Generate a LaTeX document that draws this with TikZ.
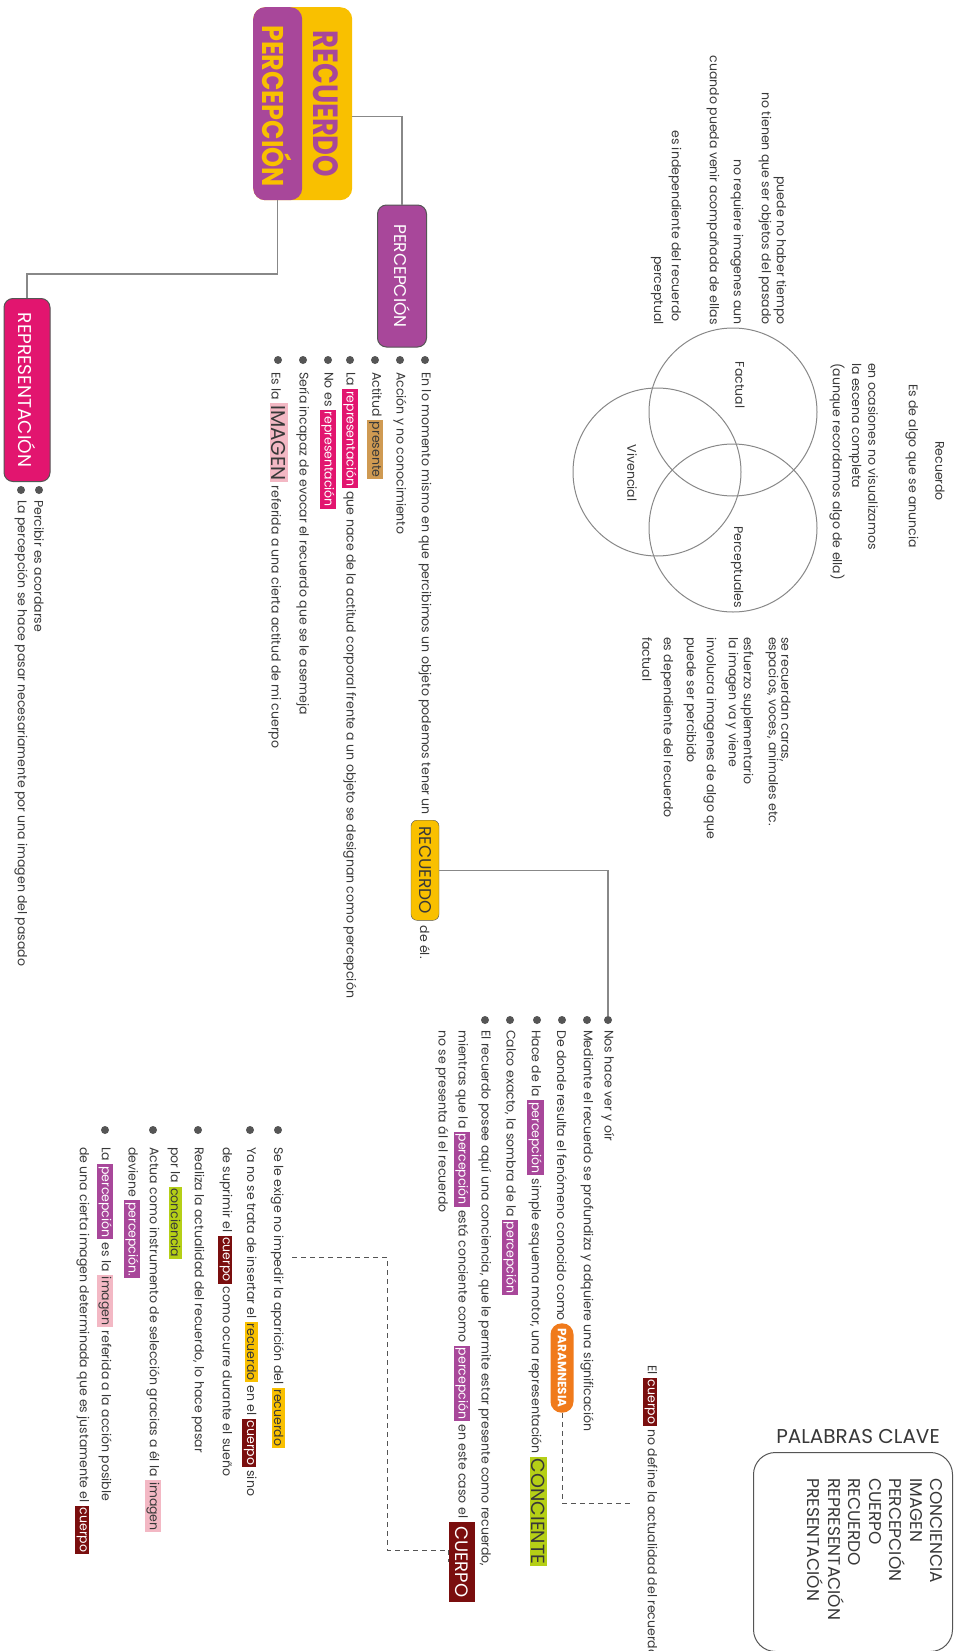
\documentclass[tikz,border=0pt]{standalone}
\usepackage{fontspec}
\setmainfont{Poppins}
\usetikzlibrary{calc}
\definecolor{ry}{HTML}{F9C000}
\definecolor{pp}{HTML}{A8479A}
\definecolor{mg}{HTML}{E2156F}
\definecolor{tn}{HTML}{CF9A52}
\definecolor{pk}{HTML}{F3B8C4}
\definecolor{orp}{HTML}{F07A1B}
\definecolor{lm}{HTML}{B5CF16}
\definecolor{dr}{HTML}{7A0E0E}
\definecolor{tg}{HTML}{383838}
\definecolor{dg}{HTML}{555555}
\definecolor{lg}{HTML}{888888}
\newcommand{\hlt}[3]{{\setlength{\fboxsep}{1.8pt}\colorbox{#1}{\textcolor{#2}{#3}}}}
\begin{document}
\begin{tikzpicture}[x=1pt,y=1pt,
  txt/.style={font=\fontsize{12.5}{14}\selectfont, text=tg, inner sep=0pt, anchor=west},
  ctxt/.style={font=\fontsize{12.5}{14}\selectfont, text=tg, inner sep=0pt},
  bul/.style={circle, fill=dg, inner sep=0pt, minimum size=8pt},
  conn/.style={draw=lg, line width=1.3pt},
  dconn/.style={draw=dg, line width=1pt, dash pattern=on 5pt off 4pt},
  circ/.style={circle, draw=lg, line width=1pt, minimum size=168pt, inner sep=0pt},
  bigbox/.style={draw=dg, line width=1pt, rounded corners=9pt, text=white, inner sep=0pt, font=\fontsize{17}{17}\selectfont}
]
\begin{scope}[rotate=-90, transform shape]
\useasboundingbox (0,0) rectangle (1651,953);
\fill[white] (0,0) rectangle (1651,953);

% ---------- title ----------
\node[fill=ry, rounded corners=12pt, minimum width=193pt, minimum height=99pt, inner sep=0pt, anchor=south west] (ty) at (7,253) {};
\node[fill=pp, rounded corners=12pt, minimum width=193pt, minimum height=49pt, inner sep=0pt, anchor=south west] (tp) at (7,253) {};
\node[font=\fontsize{35}{35}\selectfont\bfseries, text=pp, inner sep=0pt] (tyt) at (104,326) {\scalebox{0.78}[1]{RECUERDO}};
\node[font=\fontsize{30}{30}\selectfont\bfseries, text=ry, inner sep=0pt] (tpt) at (106,277) {\scalebox{0.85}[1]{PERCEPCIÓN}};

% ---------- PERCEPCION ----------
\node[bigbox, fill=pp, minimum width=142pt, minimum height=49pt] (perc) at (276,402) {PERCEPCIÓN};
\draw[conn] ($(ty.north)+(13,0)$) |- (perc.west);

\node[bul] (pb1) at (360,425) {};
\node[bul] (pb2) at (360,400) {};
\node[bul] (pb3) at (360,375) {};
\node[bul] (pb4) at (360,350) {};
\node[bul] (pb5) at (360,328) {};
\node[bul] (pb6) at (360,303) {};
\node[bul] (pb7) at (360,278) {};
\node[txt] (p1) at (372,425) {En lo momento mismo en que percibimos un objeto podemos tener un};
\node[draw=dg, fill=ry, rounded corners=6pt, minimum height=28pt, inner xsep=6pt, anchor=west, text=tg, font=\fontsize{17}{17}\selectfont] (rec) at ($(p1.east)+(5,0)$) {RECUERDO};
\node[txt] (p1b) at ($(rec.east)+(5,0)$) {de él.};
\node[txt] (p2) at (372,400) {Acción y no conocimiento};
\node[txt] (p3) at (372,375) {Actitud \hlt{tn}{tg}{presente}};
\node[txt] (p4) at (372,350) {La \hlt{mg}{white}{representación} que nace de la actitud corporal frente a un objeto se designan como percepción};
\node[txt] (p5) at (372,328) {No es \hlt{mg}{white}{representación}};
\node[txt] (p6) at (372,303) {Sería incapaz de evocar el recuerdo que se le asemeja};
\node[txt] (p7) at (372,278) {Es la \hlt{pk}{tg}{\fontsize{20}{20}\selectfont IMAGEN} referida a una cierta actitud de mi cuerpo};

% ---------- REPRESENTACION ----------
\node[bigbox, fill=mg, minimum width=183pt, minimum height=46pt, font=\fontsize{18.5}{18.5}\selectfont] (repr) at (390,27) {REPRESENTACIÓN};
\coordinate (k2) at (274,26);
\draw[conn] (tp.east) -| (k2) |- (repr.west);
\node[bul] (qb1) at (490,39) {};
\node[bul] (qb2) at (490,21) {};
\node[txt] (q1) at (500,39) {Percibir es acordarse};
\node[txt] (q2) at (500,21) {La percepción se hace pasar necesariamente por una imagen del pasado};

% ---------- Venn ----------
\node[circ] (cF) at (412,733) {};
\node[circ] (cP) at (528,733) {};
\node[circ] (cV) at (472,657) {};
\node[ctxt] (lF) at (385,740) {Factual};
\node[ctxt] (lV) at (473,632) {Vivencial};
\node[ctxt] (lP) at (567,737) {Perceptuales};

\node[ctxt] (v1) at (471,940) {Recuerdo};
\node[ctxt] (v2) at (466,912) {Es de algo que se anuncia};
\node[txt] (v3) at (363,873) {en ocasiones no visualizamos};
\node[txt] (v4) at (363,855) {la escena completa};
\node[txt] (v5) at (363,837) {(aunque recordamos algo de ella)};

\node[txt, anchor=east] (w1) at (325,780) {puede no haber tiempo};
\node[txt, anchor=east] (w2) at (325,765) {no tienen que ser objetos del pasado};
\node[txt, anchor=east] (w3) at (325,737) {no requiere imagenes aun};
\node[txt, anchor=east] (w4) at (325,713) {cuando pueda venir acompañada de ellas};
\node[txt, anchor=east] (w5) at (322,675) {es independiente del recuerdo};
\node[txt, anchor=east] (w6) at (325,657) {perceptual};

\node[txt] (u1) at (637,785) {se recuerdan caras,};
\node[txt] (u2) at (637,772) {espacios, voces, animales etc.};
\node[txt] (u3) at (637,747) {esfuerzo suplementario};
\node[txt] (u4) at (637,732) {la imagen va y viene};
\node[txt] (u5) at (637,710) {involucra imagenes de algo que};
\node[txt] (u6) at (637,690) {puede ser percibido};
\node[txt] (u7) at (637,667) {es dependiente del recuerdo};
\node[txt] (u8) at (637,647) {factual};

% ---------- RECUERDO list ----------
\node[bul] (rb1) at (1020,608) {};
\node[bul] (rb2) at (1020,587) {};
\node[bul] (rb3) at (1020,562) {};
\node[bul] (rb4) at (1020,537) {};
\node[bul] (rb5) at (1020,510) {};
\node[bul] (rb6) at (1020,485) {};
\draw[conn] (rec.north) |- (rb1.west);
\node[txt] (r1) at (1030,608) {Nos hace ver y oír};
\node[txt] (r2) at (1030,587) {Mediante el recuerdo se profundiza y adquiere una significación};
\node[txt] (r3) at (1030,562) {De donde resulta el fenómeno conocido como};
\node[fill=orp, rounded corners=11pt, minimum height=23pt, inner xsep=5pt, anchor=west, text=white, font=\fontsize{12}{12}\selectfont\bfseries] (param) at ($(r3.east)+(2,0)$) {PARAMNESIA};
\node[txt] (r4) at (1030,537) {Hace de la \hlt{pp}{white}{percepción} simple esquema motor, una representación \hlt{lm}{tg}{\fontsize{19}{19}\selectfont CONCIENTE}};
\node[txt] (r5) at (1030,510) {Calco exacto, la sombra de la \hlt{pp}{white}{percepción}};
\node[txt] (r6) at (1030,485) {El recuerdo posee aquí una conciencia, que le permite estar presente como recuerdo,};
\node[txt] (r7) at (1030,462) {mientras que la \hlt{pp}{white}{percepción} está conciente como \hlt{pp}{white}{percepción} en este caso el};
\node[fill=dr, minimum height=26pt, inner xsep=5pt, anchor=west, text=white, font=\fontsize{18}{18}\selectfont] (cuerpo) at ($(r7.east)+(3,0)$) {CUERPO};
\node[txt] (r8) at (1030,442) {no se presenta ál el recuerdo};

\node[txt] (ec) at (1365,650) {El \hlt{dr}{white}{cuerpo} no define la actualidad del recuerdo};
\coordinate (k3) at (1503,633);
\draw[dconn] (param.east) -| (k3);

% ---------- lower list ----------
\node[bul] (sb1) at (1130,278) {};
\node[bul] (sb2) at (1130,250) {};
\node[bul] (sb4) at (1130,198) {};
\node[bul] (sb6) at (1130,153) {};
\node[bul] (sb8) at (1130,105) {};
\node[txt] (s1) at (1147,278) {Se le exige no impedir la aparición del \hlt{ry}{tg}{recuerdo}};
\node[txt] (s2) at (1147,250) {Ya no se trata de insertar el \hlt{ry}{tg}{recuerdo} en el \hlt{dr}{white}{cuerpo} sino};
\node[txt] (s3) at (1147,225) {de suprimir el \hlt{dr}{white}{cuerpo} como ocurre durante el sueño};
\node[txt] (s4) at (1147,198) {Realiza la actualidad del recuerdo, lo hace pasar};
\node[txt] (s5) at (1147,175) {por la \hlt{lm}{tg}{conciencia}};
\node[txt] (s6) at (1147,153) {Actua como instrumento de selección gracias a él la \hlt{pk}{tg}{imagen}};
\node[txt] (s7) at (1147,132) {deviene \hlt{pp}{white}{percepción.}};
\node[txt] (s8) at (1147,105) {La \hlt{pp}{white}{percepción} es la \hlt{pk}{tg}{imagen} referida a la acción posible};
\node[txt] (s9) at (1147,82) {de una cierta imagen determinada que es justamente el \hlt{dr}{white}{cuerpo}};
\coordinate (k4) at (1257,292);
\coordinate (k5) at (1550,387);
\draw[dconn] (k4) |- (k5) |- (cuerpo.south);

% ---------- keywords ----------
\node[rotate=90, font=\fontsize{20}{20}\selectfont, text=tg, inner sep=0pt] (pc) at (1436,858) {PALABRAS CLAVE};
\node[draw=dg, line width=1pt, rounded corners=22pt, minimum width=199pt, minimum height=199pt, inner sep=0pt, anchor=south west] (kbox) at (1452,753) {};
\node[font=\fontsize{17}{20.5}\selectfont, text=tg, align=left, anchor=north west, inner sep=0pt] (kw) at (1478,943) {CONCIENCIA\\IMAGEN\\PERCEPCIÓN\\CUERPO\\RECUERDO\\REPRESENTACIÓN\\PRESENTACIÓN};
\end{scope}
\end{tikzpicture}
\end{document}
